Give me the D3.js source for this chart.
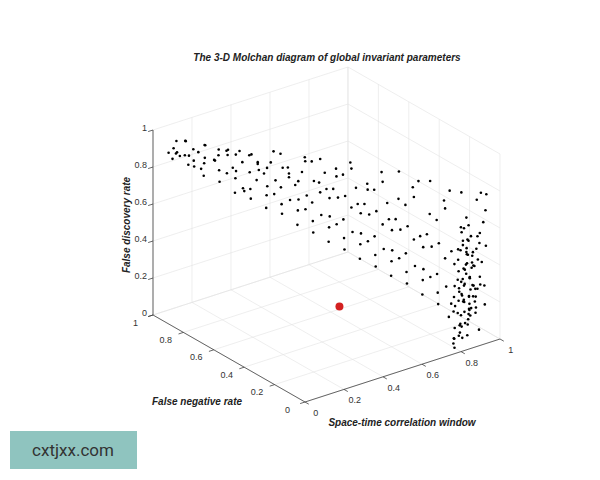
<!DOCTYPE html>
<html><head><meta charset="utf-8">
<script src="https://cdn.jsdelivr.net/npm/d3@7"></script>
<style>body{margin:0;background:#fff}svg{font-family:Helvetica,Arial,"Liberation Sans",sans-serif}</style>
</head><body>
<svg id="chart" width="600" height="480"></svg>
<script>
// ticks for every axis
var ticks = [0, 0.2, 0.4, 0.6, 0.8, 1];

// cloud of parameter sets: [window, FNR, FDR]
var sheetPoints = [
  [0.10,1.00,0.81],[0.11,0.99,0.84],[0.09,0.98,0.88],[0.12,1.00,0.90],[0.10,0.97,0.86],[0.13,0.99,0.82],[0.08,1.00,0.85],
  [0.15,0.96,0.78],[0.14,0.97,0.83],[0.16,0.94,0.87],[0.15,0.98,0.90],[0.17,0.95,0.80],[0.13,0.93,0.85],[0.16,0.99,0.89],[0.18,0.96,0.76],
  [0.19,0.91,0.73],[0.20,0.92,0.79],[0.18,0.89,0.84],[0.21,0.93,0.88],[0.19,0.90,0.90],[0.22,0.88,0.82],[0.17,0.92,0.86],[0.20,0.94,0.75],
  [0.24,0.87,0.70],[0.23,0.86,0.77],[0.25,0.89,0.83],[0.26,0.84,0.88],[0.22,0.85,0.89],[0.24,0.90,0.80],[0.27,0.86,0.74],[0.25,0.83,0.86],
  [0.28,0.82,0.65],[0.29,0.83,0.72],[0.27,0.80,0.78],[0.30,0.84,0.84],[0.28,0.79,0.89],[0.31,0.81,0.81],[0.26,0.85,0.87],[0.29,0.78,0.69],[0.30,0.86,0.76],
  [0.33,0.78,0.62],[0.32,0.77,0.68],[0.34,0.80,0.75],[0.35,0.76,0.82],[0.31,0.75,0.88],[0.33,0.79,0.85],[0.36,0.78,0.71],[0.34,0.74,0.79],[0.32,0.81,0.65],
  [0.37,0.73,0.58],[0.38,0.74,0.64],[0.36,0.71,0.71],[0.39,0.75,0.78],[0.37,0.70,0.84],[0.40,0.72,0.88],[0.35,0.76,0.81],[0.38,0.69,0.67],[0.39,0.77,0.74],
  [0.42,0.69,0.55],[0.41,0.68,0.61],[0.43,0.71,0.68],[0.44,0.67,0.75],[0.40,0.66,0.82],[0.42,0.70,0.87],[0.45,0.69,0.79],[0.43,0.65,0.64],[0.41,0.72,0.72],
  [0.46,0.64,0.50],[0.47,0.65,0.57],[0.45,0.62,0.65],[0.48,0.66,0.72],[0.46,0.61,0.80],[0.49,0.63,0.86],[0.44,0.67,0.77],[0.47,0.60,0.60],[0.48,0.68,0.69],[0.50,0.64,0.83],
  [0.51,0.60,0.46],[0.50,0.59,0.53],[0.52,0.62,0.61],[0.53,0.58,0.68],[0.49,0.57,0.76],[0.51,0.61,0.84],[0.54,0.60,0.72],[0.52,0.56,0.57],[0.50,0.63,0.65],[0.53,0.55,0.80],
  [0.55,0.55,0.42],[0.56,0.56,0.49],[0.54,0.53,0.57],[0.57,0.57,0.64],[0.55,0.52,0.72],[0.58,0.54,0.81],[0.53,0.58,0.86],[0.56,0.51,0.53],[0.57,0.59,0.68],[0.59,0.55,0.76],
  [0.60,0.51,0.38],[0.59,0.50,0.45],[0.61,0.53,0.53],[0.62,0.49,0.61],[0.58,0.48,0.69],[0.60,0.52,0.78],[0.63,0.51,0.84],[0.61,0.47,0.49],[0.59,0.54,0.65],[0.62,0.46,0.73],
  [0.64,0.46,0.34],[0.65,0.47,0.41],[0.63,0.44,0.49],[0.66,0.48,0.57],[0.64,0.43,0.65],[0.67,0.45,0.74],[0.62,0.49,0.82],[0.65,0.42,0.45],[0.66,0.50,0.61],[0.68,0.46,0.70],
  [0.69,0.42,0.30],[0.68,0.41,0.37],[0.70,0.44,0.45],[0.71,0.40,0.53],[0.67,0.39,0.62],[0.69,0.43,0.71],[0.72,0.42,0.80],[0.70,0.38,0.41],[0.68,0.45,0.57],[0.71,0.37,0.66],
  [0.73,0.37,0.26],[0.74,0.38,0.33],[0.72,0.35,0.41],[0.75,0.39,0.49],[0.73,0.34,0.58],[0.76,0.36,0.67],[0.71,0.40,0.76],[0.74,0.33,0.37],[0.75,0.41,0.54],[0.77,0.37,0.81],
  [0.78,0.33,0.22],[0.77,0.32,0.29],[0.79,0.35,0.37],[0.80,0.31,0.46],[0.76,0.30,0.55],[0.78,0.34,0.64],[0.81,0.33,0.73],[0.79,0.29,0.33],[0.77,0.36,0.50],[0.80,0.28,0.79],
  [0.82,0.28,0.17],[0.83,0.29,0.24],[0.81,0.26,0.32],[0.84,0.30,0.41],[0.82,0.25,0.51],[0.85,0.27,0.60],[0.80,0.31,0.69],[0.83,0.24,0.28],[0.84,0.32,0.46],[0.86,0.28,0.77],
  [0.87,0.24,0.12],[0.86,0.23,0.19],[0.88,0.26,0.27],[0.89,0.22,0.37],[0.85,0.21,0.47],[0.87,0.25,0.57],[0.90,0.24,0.67],[0.88,0.20,0.23],[0.86,0.27,0.42],[0.89,0.19,0.75],
  [0.91,0.19,0.09],[0.92,0.20,0.16],[0.90,0.17,0.24],[0.93,0.21,0.33],[0.91,0.16,0.44],[0.94,0.18,0.54],[0.89,0.22,0.64],[0.92,0.15,0.20],[0.93,0.23,0.39],[0.95,0.19,0.72],
  [0.96,0.15,0.10],[0.95,0.14,0.18],[0.97,0.16,0.27],[0.98,0.12,0.38],[0.94,0.13,0.49],[0.96,0.17,0.59],[0.99,0.14,0.69],[0.97,0.11,0.23],[0.95,0.18,0.44],[0.98,0.10,0.75],
  [1.00,0.10,0.14],[0.99,0.09,0.25],[1.00,0.12,0.36],[0.99,0.08,0.47],[1.00,0.11,0.58],[0.98,0.07,0.67],[1.00,0.09,0.74],[0.99,0.12,0.52]
];

// dense column near the front-right corner
var columnPoints = [
  [0.80,0.05,0.02],[0.82,0.04,0.06],[0.84,0.06,0.10],[0.86,0.03,0.14],[0.88,0.05,0.18],[0.85,0.08,0.22],[0.83,0.02,0.26],[0.87,0.07,0.30],
  [0.81,0.06,0.04],[0.83,0.08,0.08],[0.85,0.02,0.12],[0.87,0.04,0.16],[0.89,0.06,0.20],[0.84,0.03,0.24],[0.86,0.09,0.28],[0.88,0.02,0.32],
  [0.82,0.07,0.03],[0.84,0.01,0.07],[0.86,0.05,0.11],[0.88,0.08,0.15],[0.90,0.03,0.19],[0.85,0.05,0.23],[0.87,0.01,0.27],[0.89,0.04,0.31],
  [0.83,0.03,0.05],[0.85,0.06,0.09],[0.87,0.09,0.13],[0.89,0.02,0.17],[0.91,0.05,0.21],[0.86,0.07,0.25],[0.88,0.04,0.29],[0.90,0.07,0.33],
  [0.84,0.04,0.36],[0.86,0.06,0.40],[0.88,0.03,0.44],[0.90,0.05,0.48],[0.85,0.08,0.38],[0.87,0.02,0.42],[0.89,0.07,0.46],[0.91,0.04,0.50],
  [0.83,0.06,0.35],[0.85,0.03,0.39],[0.87,0.05,0.43],[0.89,0.08,0.47],[0.86,0.04,0.52],[0.88,0.06,0.55],[0.90,0.02,0.58],[0.87,0.07,0.61],
  [0.84,0.05,0.34],[0.86,0.02,0.37],[0.88,0.07,0.41],[0.90,0.09,0.45],[0.92,0.03,0.35],[0.92,0.06,0.27],[0.91,0.08,0.12],[0.90,0.01,0.08],
  [0.79,0.03,0.01],[0.81,0.02,0.09],[0.80,0.08,0.15],[0.82,0.09,0.21],[0.83,0.05,0.29],[0.85,0.04,0.33],[0.84,0.07,0.45],[0.86,0.08,0.49],
  [0.88,0.09,0.53],[0.89,0.05,0.57],[0.85,0.06,0.60],[0.87,0.04,0.64],[0.91,0.06,0.40],[0.92,0.08,0.44],[0.93,0.04,0.30],[0.93,0.07,0.22],
  [0.82,0.03,0.13],[0.83,0.06,0.17],[0.84,0.09,0.19],[0.86,0.01,0.21],[0.88,0.05,0.25],[0.89,0.09,0.37],[0.90,0.04,0.41],[0.91,0.02,0.54]
];

var optimumPoint = [0.66, 0.62, 0];

var svg = d3.select('#chart');

// each data axis maps to its screen direction; projection is the sum
var sx = {x: d3.scaleLinear().domain([0, 1]).range([0, 195]), y: d3.scaleLinear().domain([0, 1]).range([0, -63])};
var sy = {x: d3.scaleLinear().domain([0, 1]).range([0, -152]), y: d3.scaleLinear().domain([0, 1]).range([0, -87])};
var sz = d3.scaleLinear().domain([0, 1]).range([0, -185]);
var ox = 305, oy = 402;

function proj(p) {
  return [ox + sx.x(p[0]) + sy.x(p[1]), oy + sx.y(p[0]) + sy.y(p[1]) + sz(p[2])];
}
function line(a, b, color, w) {
  var A = proj(a), B = proj(b);
  svg.append('line').attr('x1', A[0]).attr('y1', A[1]).attr('x2', B[0]).attr('y2', B[1])
    .attr('stroke', color).attr('stroke-width', w || 0.6);
}

// grid: floor, back walls
var grid = '#e3e3e3';
ticks.forEach(function(t) {
  line([t, 0, 0], [t, 1, 0], grid);
  line([0, t, 0], [1, t, 0], grid);
  line([t, 1, 0], [t, 1, 1], grid);
  line([0, 1, t], [1, 1, t], grid);
  line([1, t, 0], [1, t, 1], grid);
  line([1, 0, t], [1, 1, t], grid);
});

// axes
var axc = '#404040';
line([0, 0, 0], [1, 0, 0], axc, 0.8);
line([0, 0, 0], [0, 1, 0], axc, 0.8);
line([0, 1, 0], [0, 1, 1], axc, 0.8);

var tickFont = 9, tc = '#333';
ticks.forEach(function(t) {
  line([t, 0, 0], [t, -0.025, 0], axc, 0.8);
  var p = proj([t, -0.07, 0]);
  svg.append('text').attr('x', p[0]).attr('y', p[1] + 8).attr('text-anchor', 'middle')
    .attr('font-size', tickFont).attr('fill', tc).text(t);
  line([0, t, 0], [-0.025, t, 0], axc, 0.8);
  p = proj([-0.09, t, 0]);
  svg.append('text').attr('x', p[0]).attr('y', p[1] + 5).attr('text-anchor', 'middle')
    .attr('font-size', tickFont).attr('fill', tc).text(t);
  line([0, 1, t], [-0.025, 1, t], axc, 0.8);
  p = proj([0, 1, t]);
  svg.append('text').attr('x', p[0] - 6).attr('y', p[1] + 1).attr('text-anchor', 'end')
    .attr('font-size', tickFont).attr('fill', tc).text(t);
});

// points
var pts = sheetPoints.concat(columnPoints);
svg.append('g').selectAll('circle').data(pts).join('circle')
  .attr('cx', function(d) { return proj(d)[0]; })
  .attr('cy', function(d) { return proj(d)[1]; })
  .attr('r', 1.3).attr('fill', '#000');

var op = proj(optimumPoint);
svg.append('circle').attr('cx', op[0]).attr('cy', op[1]).attr('r', 4).attr('fill', '#d32020');

// labels
function label(x, y, txt, rot) {
  svg.append('text').attr('transform', 'translate(' + x + ',' + y + ')' + (rot ? ' rotate(' + rot + ')' : ''))
    .attr('text-anchor', 'middle').attr('font-size', 10).attr('font-weight', 'bold')
    .attr('font-style', 'italic').attr('fill', '#222').text(txt);
}
label(327, 61, 'The 3-D Molchan diagram of global invariant parameters');
label(130, 225, 'False discovery rate', -90);
label(197, 405, 'False negative rate');
label(402, 426, 'Space-time correlation window');

// watermark
svg.append('rect').attr('x', 10).attr('y', 431).attr('width', 127).attr('height', 38).attr('fill', '#8fc4bf');
svg.append('text').attr('x', 73).attr('y', 456).attr('text-anchor', 'middle').attr('font-size', 17)
  .attr('fill', '#333').attr('font-family', 'Roboto, sans-serif').text('cxtjxx.com');
</script>
</body></html>
